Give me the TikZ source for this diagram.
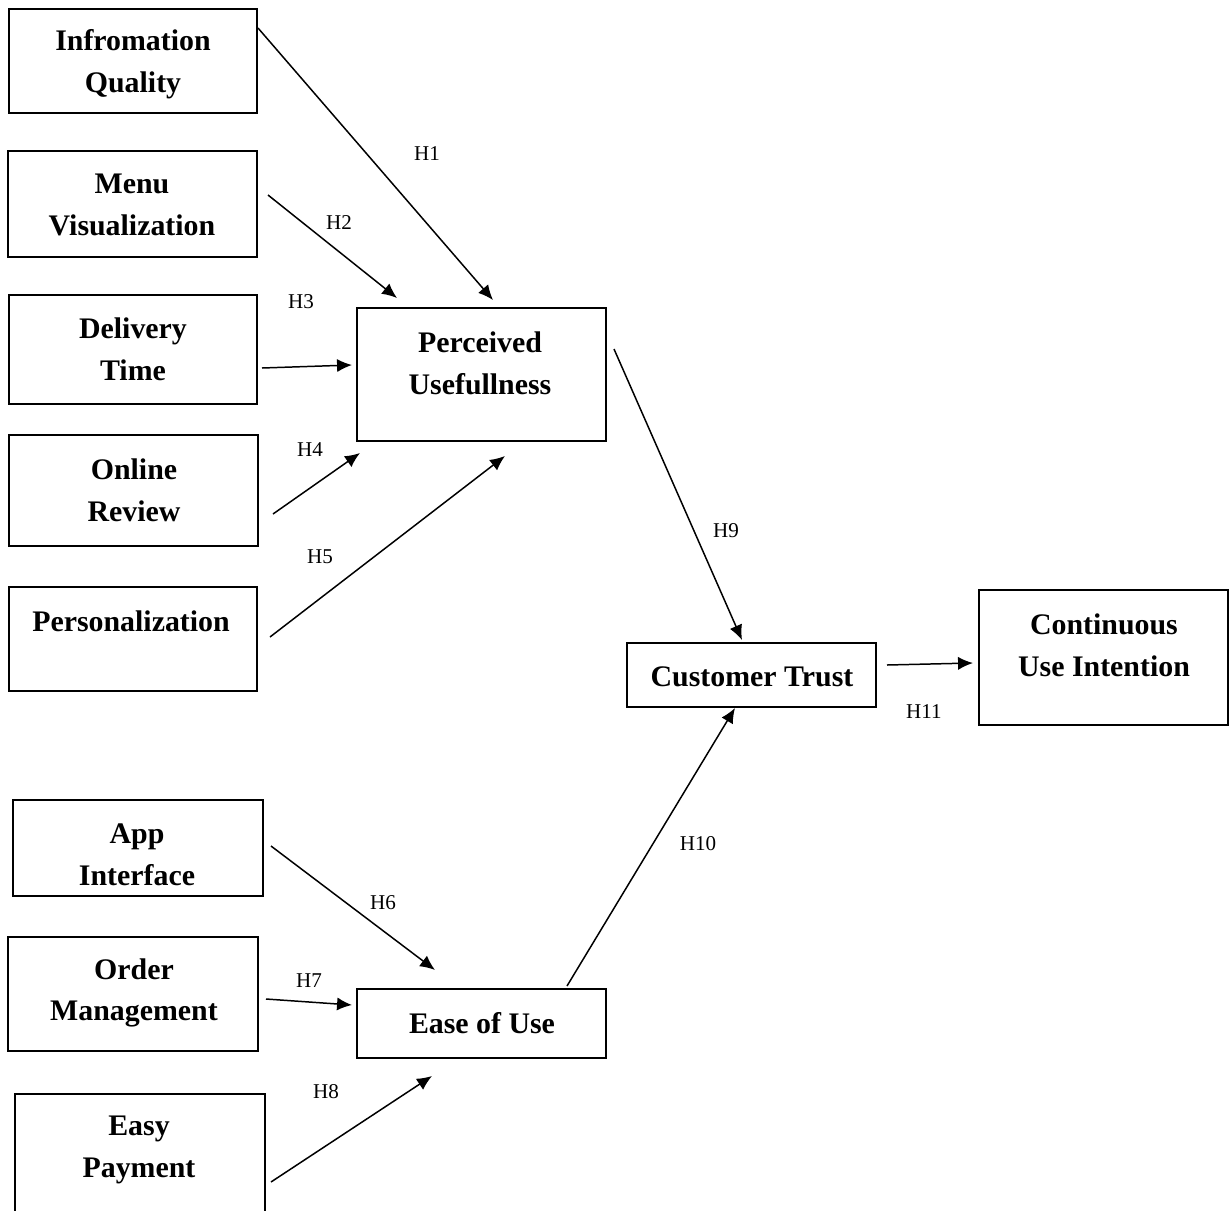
\documentclass[tikz,border=0pt]{standalone}
\usepackage{fontspec}
\setmainfont{Liberation Serif}
\usetikzlibrary{arrows.meta,fit}
\begin{document}
\begin{tikzpicture}[x=0.02cm,y=-0.02cm,
  box/.style={draw=black,line width=0.9pt,inner sep=0pt},
  txt/.style={align=center,font=\fontsize{17}{23.8}\selectfont\bfseries,inner sep=0pt},
  hlab/.style={font=\fontsize{12}{14}\selectfont,inner sep=0pt},
  link/.style={line width=0.85pt,-{Latex[length=8.5pt,width=7.5pt]}}]
\useasboundingbox (0,0) rectangle (1232,1211);
\clip (0,0) rectangle (1232,1211);
% boxes
\node[box,fit={(9,9) (257,113)}] (iq) {};
\node[box,fit={(8,151) (257,257)}] (mv) {};
\node[box,fit={(9,295) (257,404)}] (dt) {};
\node[box,fit={(9,435) (258,546)}] (or) {};
\node[box,fit={(9,587) (257,691)}] (pe) {};
\node[box,fit={(357,308) (606,441)}] (pu) {};
\node[box,fit={(627,643) (876,707)}] (ct) {};
\node[box,fit={(979,590) (1228,725)}] (cu) {};
\node[box,fit={(13,800) (263,896)}] (ai) {};
\node[box,fit={(8,937) (258,1051)}] (om) {};
\node[box,fit={(357,989) (606,1058)}] (eu) {};
\node[box,fit={(15,1094) (265,1260)}] (ep) {};
% texts
\node[txt] (iq-t) at (133,64) {Infromation\\Quality};
\node[txt] (mv-t) at (132,205) {Menu\\Visualization};
\node[txt] (dt-t) at (133,349) {Delivery\\Time};
\node[txt] (or-t) at (134,490) {Online\\Review};
\node[txt] (pe-t) at (131,621) {Personalization};
\node[txt] (pu-t) at (480,363) {Perceived\\Usefullness};
\node[txt] (ct-t) at (752,677) {Customer Trust};
\node[txt] (cu-t) at (1104,645) {Continuous\\Use Intention};
\node[txt] (ai-t) at (137,855) {App\\Interface};
\node[txt] (om-t) at (134,993) {Order\\Management};
\node[txt] (eu-t) at (482,1023) {Ease of Use};
\node[txt] (ep-t) at (139,1150) {Easy\\Payment};
% connector end points
\coordinate (h1a) at (258,28);   \coordinate (h1b) at (493,300);
\coordinate (h2a) at (268,195);  \coordinate (h2b) at (397,298);
\coordinate (h3a) at (262,368);  \coordinate (h3b) at (352,365);
\coordinate (h4a) at (273,514);  \coordinate (h4b) at (360,453);
\coordinate (h5a) at (270,637);  \coordinate (h5b) at (505,456);
\coordinate (h6a) at (271,846);  \coordinate (h6b) at (435,970);
\coordinate (h7a) at (266,999);  \coordinate (h7b) at (352,1005);
\coordinate (h8a) at (271,1182); \coordinate (h8b) at (432,1076);
\coordinate (h9a) at (614,349);  \coordinate (h9b) at (742,640);
\coordinate (h10a) at (567,986); \coordinate (h10b) at (735,708);
\coordinate (h11a) at (887,665); \coordinate (h11b) at (973,663);
\draw[link] (h1a) -- (h1b);
\draw[link] (h2a) -- (h2b);
\draw[link] (h3a) -- (h3b);
\draw[link] (h4a) -- (h4b);
\draw[link] (h5a) -- (h5b);
\draw[link] (h6a) -- (h6b);
\draw[link] (h7a) -- (h7b);
\draw[link] (h8a) -- (h8b);
\draw[link] (h9a) -- (h9b);
\draw[link] (h10a) -- (h10b);
\draw[link] (h11a) -- (h11b);
% labels
\node[hlab] (l1) at (427,154) {H1};
\node[hlab] (l2) at (339,223) {H2};
\node[hlab] (l3) at (301,302) {H3};
\node[hlab] (l4) at (310,450) {H4};
\node[hlab] (l5) at (320,557) {H5};
\node[hlab] (l6) at (383,903) {H6};
\node[hlab] (l7) at (309,981) {H7};
\node[hlab] (l8) at (326,1092) {H8};
\node[hlab] (l9) at (726,531) {H9};
\node[hlab] (l10) at (698,844) {H10};
\node[hlab] (l11) at (924,712) {H11};
\end{tikzpicture}
\end{document}
